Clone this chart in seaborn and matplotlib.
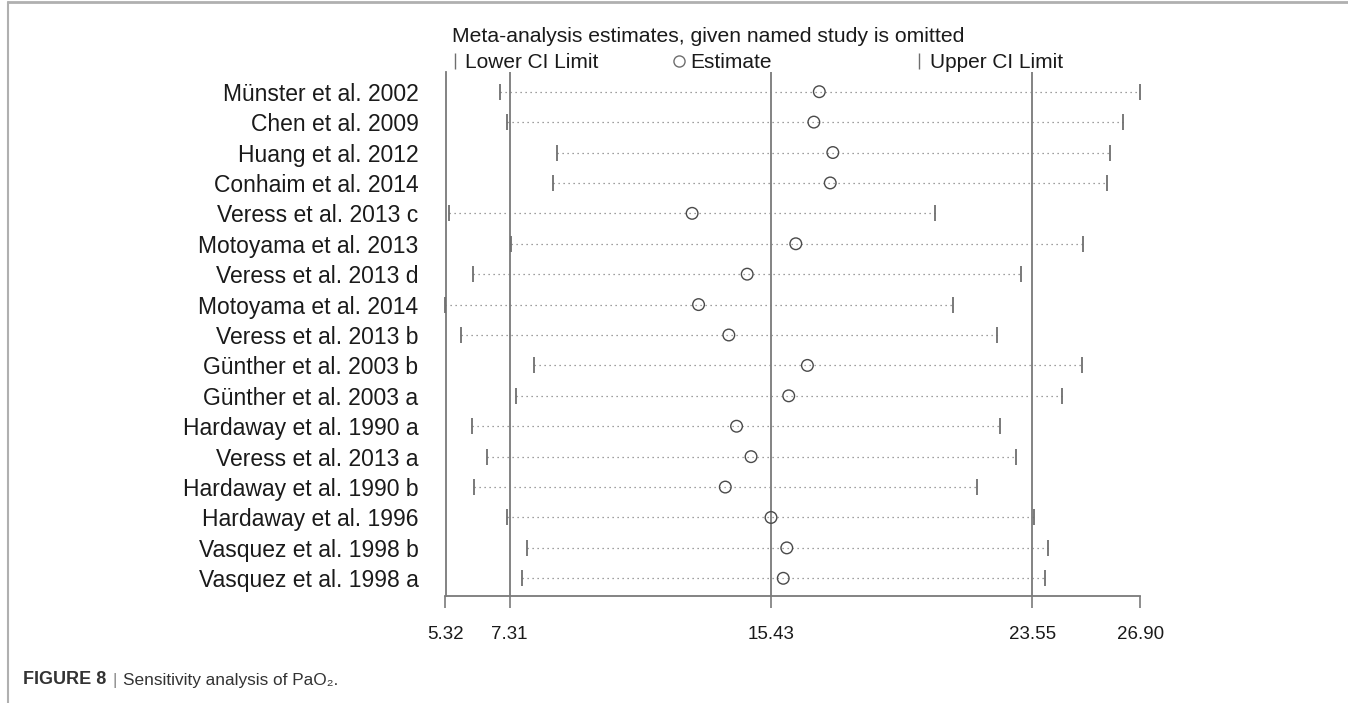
import matplotlib
matplotlib.use("Agg")
import matplotlib.pyplot as plt
from matplotlib.lines import Line2D
import numpy as np
import pandas as pd
import seaborn as sns

studies = [
    "Münster et al. 2002", "Chen et al. 2009", "Huang et al. 2012",
    "Conhaim et al. 2014", "Veress et al. 2013 c", "Motoyama et al. 2013",
    "Veress et al. 2013 d", "Motoyama et al. 2014", "Veress et al. 2013 b",
    "Günther et al. 2003 b", "Günther et al. 2003 a", "Hardaway et al. 1990 a",
    "Veress et al. 2013 a", "Hardaway et al. 1990 b", "Hardaway et al. 1996",
    "Vasquez et al. 1998 b", "Vasquez et al. 1998 a",
]
lower = [7.01, 7.23, 8.79, 8.65, 5.44, 7.36, 6.18, 5.32, 5.80,
         8.07, 7.51, 6.15, 6.60, 6.21, 7.23, 7.85, 7.71]
estimate = [16.93, 16.76, 17.35, 17.27, 12.98, 16.20, 14.69, 13.18, 14.12,
            16.56, 15.98, 14.36, 14.81, 14.01, 15.43, 15.92, 15.81]
upper = [26.90, 26.35, 25.96, 25.88, 20.52, 25.12, 23.21, 21.08, 22.46,
         25.08, 24.47, 22.55, 23.04, 21.84, 23.59, 24.02, 23.94]
ref_lines = [7.31, 15.43, 23.55]
xticks = [5.32, 7.31, 15.43, 23.55, 26.90]
xlim = (5.32, 26.90)

title = "Meta-analysis estimates, given named study is omitted"
legend_labels = ["Lower CI Limit", "Estimate", "Upper CI Limit"]

df = pd.DataFrame({"study": studies, "lower": lower, "estimate": estimate,
                   "upper": upper, "row": np.arange(len(studies))})

sns.set_style("white")
plt.rcParams["font.family"] = ["Liberation Sans", "DejaVu Sans"]

W, H = 1348, 703
fig = plt.figure(figsize=(W / 100, H / 100), dpi=100)
ax = fig.add_axes([445.5 / W, (H - 596) / H, (1140.3 - 445.5) / W, (596 - 72) / H])

line_col = "#7a7a7a"
# dotted CI lines
ax.hlines(df["row"], df["lower"], df["upper"], colors="#808080",
          linestyles=(0, (1, 3)), linewidth=0.9, zorder=2)
# caps
for col in ["lower", "upper"]:
    ax.plot(df[col], df["row"], linestyle="none", marker="|", markersize=11,
            markeredgewidth=1.3, color="#6e6e6e", clip_on=False, zorder=3)
# estimates
sns.scatterplot(data=df, x="estimate", y="row", ax=ax, marker="o", s=70,
                facecolor="none", edgecolor="#4a4a4a", linewidth=1.0,
                zorder=4, clip_on=False, legend=False)
for v in ref_lines:
    ax.axvline(v, color=line_col, linewidth=1.3, zorder=1)

ax.set_xlim(*xlim)
ax.set_ylim(16 + (596 - 578.3) / 30.41, -(91.7 - 72) / 30.41)
ax.set_yticks(df["row"])
ax.set_yticklabels(studies, fontsize=16.5, color="#1a1a1a")
ax.set_xticks(xticks)
ax.set_xticklabels([f"{t:.2f}" for t in xticks], fontsize=13.5, color="#1a1a1a")
ax.set_xlabel("")
ax.set_ylabel("")
ax.tick_params(axis="y", length=0, pad=19.5)
ax.tick_params(axis="x", length=8.5, width=1.2, color=line_col, pad=13,
               direction="out", bottom=True)
for s in ["top", "right"]:
    ax.spines[s].set_visible(False)
for s in ["left", "bottom"]:
    ax.spines[s].set_color(line_col)
    ax.spines[s].set_linewidth(1.3)

# title and legend key
fig.text(452 / W, 1 - 37 / H, title, fontsize=15.2, ha="left", va="center",
         color="#1a1a1a")
leg_y = 1 - 63 / H
keys = [("|", 455, 465), ("o", 679, 690), ("|", 919, 930)]
for (mk, mx, tx), lab in zip(keys, legend_labels):
    fig.add_artist(Line2D([mx / W], [leg_y + 2 / H], marker=mk, linestyle="none",
                          markersize=12 if mk == "|" else 8,
                          markeredgewidth=1.0, markerfacecolor="none",
                          markeredgecolor="#6e6e6e"))
    fig.text(tx / W, leg_y, lab, fontsize=15, ha="left", va="center",
             color="#1a1a1a")

# frame lines
fig.add_artist(Line2D([8 / W, 1], [1 - 2 / H, 1 - 2 / H], color="#b0b0b0", linewidth=2))
fig.add_artist(Line2D([8 / W, 8 / W], [0, 1 - 2 / H], color="#b0b0b0", linewidth=1.5))

# caption
cy = 1 - 680 / H
fig.text(23 / W, cy, "FIGURE 8", fontsize=13, fontweight="bold", ha="left",
         va="center", color="#333333")
fig.text(113 / W, cy, "|", fontsize=12.5, ha="left", va="center", color="#888888")
fig.text(123 / W, cy, "Sensitivity analysis of PaO\u2082.", fontsize=12.4,
         ha="left", va="center", color="#333333")

fig.savefig("out.png", dpi=100)
